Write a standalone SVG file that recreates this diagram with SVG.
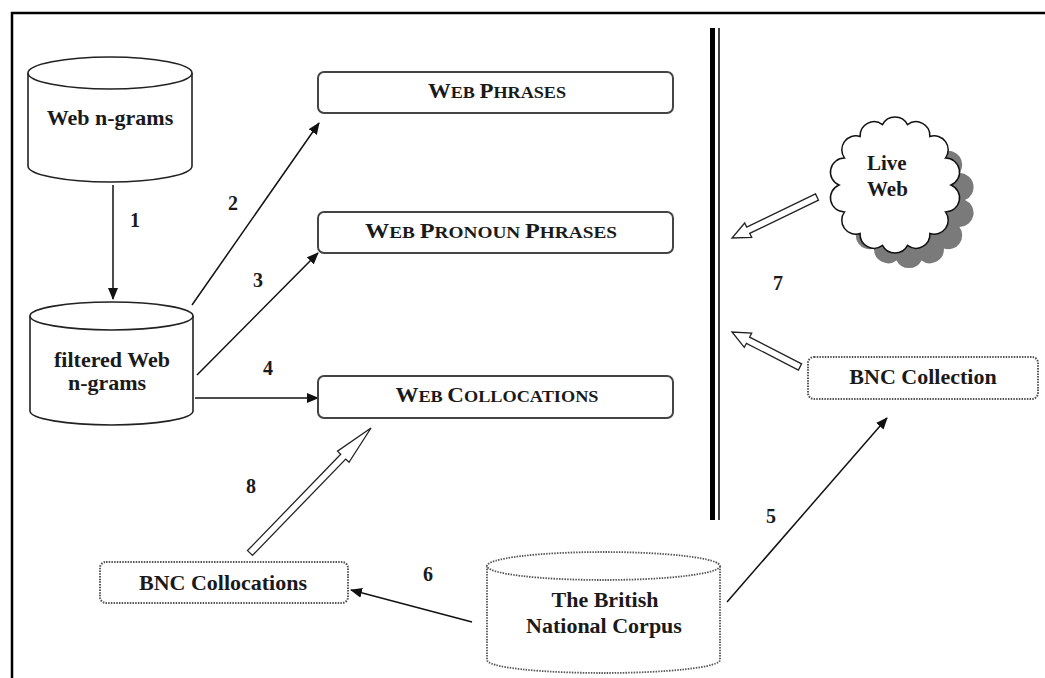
<svg xmlns="http://www.w3.org/2000/svg" width="1045" height="678" viewBox="0 0 1045 678">
<defs>
<style>
.t{font-family:"Liberation Serif","Times New Roman",serif;font-weight:bold;fill:#1a1a1a;}
.lbl{font-family:"Liberation Serif","Times New Roman",serif;font-weight:bold;font-size:20px;fill:#1a1a1a;}
.box{fill:#fff;stroke:#444;stroke-width:2;}
.dbox{fill:#fff;stroke:#555;stroke-width:2;stroke-dasharray:1.5 1.2;}
.cyl{fill:#fff;stroke:#222;stroke-width:1.6;}
.dcyl{fill:#fff;stroke:#555;stroke-width:1.8;stroke-dasharray:1.5 1.2;}
.conn{fill:none;stroke:#111;stroke-width:1.5;marker-end:url(#ah);}
.hollow{fill:#fff;stroke:#222;stroke-width:1.3;stroke-linejoin:miter;}
</style>
<marker id="ah" viewBox="0 0 12 10" refX="11" refY="5" markerWidth="12" markerHeight="10" markerUnits="userSpaceOnUse" orient="auto">
<path d="M0,0 L12,5 L0,10 z" fill="#111"/>
</marker>
<path id="cloudShape" d="M951,185 A14,14 0 0 1 945.5,211.9 A14,14 0 0 1 929.9,233.5 A14,14 0 0 1 907.5,245.4 A14,14 0 0 1 882.5,245.4 A14,14 0 0 1 860.1,233.5 A14,14 0 0 1 844.5,211.9 A14,14 0 0 1 839,185 A14,14 0 0 1 844.5,158.1 A14,14 0 0 1 860.1,136.5 A14,14 0 0 1 882.5,124.6 A14,14 0 0 1 907.5,124.6 A14,14 0 0 1 929.9,136.5 A14,14 0 0 1 945.5,158.1 A14,14 0 0 1 951,185 Z"/>
</defs>
<rect width="1045" height="678" fill="#fff"/>
<g id="frame">
<line x1="11" y1="13" x2="1045" y2="13" stroke="#000" stroke-width="2.5"/>
<line x1="12" y1="12" x2="12" y2="678" stroke="#000" stroke-width="2.5"/>
<line x1="712.5" y1="28" x2="712.5" y2="520" stroke="#000" stroke-width="5"/>
<line x1="719" y1="28" x2="719" y2="520" stroke="#000" stroke-width="1.5"/>
</g>

<g id="connectors">
<line class="conn" x1="113" y1="185" x2="113" y2="299"/>
<line class="conn" x1="192" y1="305" x2="319" y2="123"/>
<line class="conn" x1="197" y1="375" x2="318" y2="253"/>
<line class="conn" x1="195" y1="398" x2="318" y2="398"/>
<line class="conn" x1="727" y1="602" x2="887" y2="418"/>
<line class="conn" x1="472" y1="622" x2="351" y2="590"/>
<polygon class="hollow" points="815.5,193.9 746.7,227.1 744.7,223.0 732,238 751.7,237.4 749.7,233.4 818.5,200.2"/>
<polygon class="hollow" points="801.6,363.9 749.6,337.1 751.7,333.1 732,332 744.3,347.3 746.4,343.3 798.4,370.1"/>
<polygon class="hollow" points="252.5,555.4 345.7,459.1 349.0,462.3 371,428 337.5,451.1 340.7,454.3 247.5,550.6"/>
<text class="lbl" x="135" y="227" text-anchor="middle">1</text>
<text class="lbl" x="233" y="210" text-anchor="middle">2</text>
<text class="lbl" x="258" y="287" text-anchor="middle">3</text>
<text class="lbl" x="268" y="375" text-anchor="middle">4</text>
<text class="lbl" x="771" y="523" text-anchor="middle">5</text>
<text class="lbl" x="428" y="581" text-anchor="middle">6</text>
<text class="lbl" x="778" y="290" text-anchor="middle">7</text>
<text class="lbl" x="251" y="493" text-anchor="middle">8</text>
</g>

<g id="web-ngrams">
<path class="cyl" d="M28,73 V166 A82,16 0 0 0 192,166 V73"/>
<ellipse class="cyl" cx="110" cy="73" rx="82" ry="16"/>
<text class="t" x="110" y="125" font-size="22" text-anchor="middle">Web n-grams</text>
</g>

<g id="filtered-web-ngrams">
<path class="cyl" d="M30,316 V411 A81.5,14 0 0 0 193,411 V316"/>
<ellipse class="cyl" cx="111.5" cy="316" rx="81.5" ry="14"/>
<text class="t" x="112" y="367" font-size="22" text-anchor="middle">filtered Web</text>
<text class="t" x="107" y="390" font-size="22" text-anchor="middle">n-grams</text>
</g>

<g id="web-phrases">
<rect class="box" x="318" y="72" width="355" height="41" rx="6"/>
<text class="t" x="497" y="98" text-anchor="middle" textLength="138" lengthAdjust="spacingAndGlyphs"><tspan font-size="22">W</tspan><tspan font-size="17.5">EB </tspan><tspan font-size="22">P</tspan><tspan font-size="17.5">HRASES</tspan></text>
</g>

<g id="web-pronoun-phrases">
<rect class="box" x="318" y="212" width="355" height="41" rx="6"/>
<text class="t" x="491" y="238" text-anchor="middle" textLength="252" lengthAdjust="spacingAndGlyphs"><tspan font-size="22">W</tspan><tspan font-size="17.5">EB </tspan><tspan font-size="22">P</tspan><tspan font-size="17.5">RONOUN </tspan><tspan font-size="22">P</tspan><tspan font-size="17.5">HRASES</tspan></text>
</g>

<g id="web-collocations">
<rect class="box" x="318" y="376" width="355" height="42" rx="6"/>
<text class="t" x="497" y="402" text-anchor="middle" textLength="203" lengthAdjust="spacingAndGlyphs"><tspan font-size="22">W</tspan><tspan font-size="17.5">EB </tspan><tspan font-size="22">C</tspan><tspan font-size="17.5">OLLOCATIONS</tspan></text>
</g>

<g id="live-web">
<use href="#cloudShape" transform="translate(14,15)" fill="#7a7a7a"/>
<use href="#cloudShape" fill="#fff" stroke="#111" stroke-width="1.5"/>
<text class="t" x="867" y="170" font-size="21">Live</text>
<text class="t" x="867" y="196" font-size="21">Web</text>
</g>

<g id="bnc-collection">
<rect class="dbox" x="808" y="357" width="230" height="42" rx="6"/>
<text class="t" x="923" y="384" font-size="22" text-anchor="middle">BNC Collection</text>
</g>

<g id="bnc-collocations">
<rect class="dbox" x="100" y="562" width="248" height="41" rx="6"/>
<text class="t" x="223" y="590" font-size="22" text-anchor="middle">BNC Collocations</text>
</g>

<g id="british-national-corpus">
<path class="dcyl" d="M487,566 V660 A116.5,13 0 0 0 720,660 V566"/>
<ellipse class="dcyl" cx="603.5" cy="566" rx="116.5" ry="14"/>
<text class="t" x="605" y="607" font-size="22" text-anchor="middle">The British</text>
<text class="t" x="604" y="633" font-size="22" text-anchor="middle">National Corpus</text>
</g>
</svg>
